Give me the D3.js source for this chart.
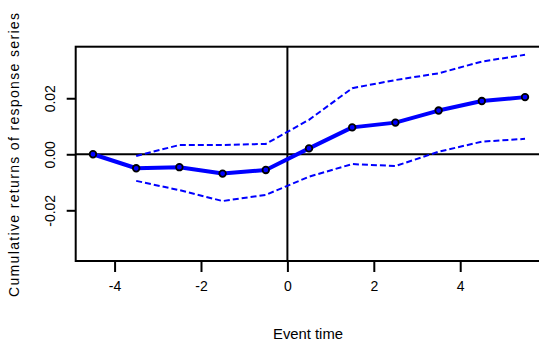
<!DOCTYPE html>
<html>
<head>
<meta charset="utf-8">
<script src="https://cdn.jsdelivr.net/npm/d3@7/dist/d3.min.js"></script>
<style>
  html, body { margin: 0; padding: 0; background: #fff; }
  svg { display: block; }
  text { font-family: "Liberation Sans", Arial, sans-serif; fill: #000; }
</style>
</head>
<body>
<svg id="chart" width="539" height="345"></svg>
<script>
// Event window
const eventTime = [-4.5, -3.5, -2.5, -1.5, -0.5, 0.5, 1.5, 2.5, 3.5, 4.5, 5.5];
// Cumulative returns of the response series
const cumReturn = [0.0000, -0.0050, -0.0046, -0.0069, -0.0056, 0.0021, 0.0096, 0.0113, 0.0156, 0.0190, 0.0204];
// Confidence band (starts one step into the window)
const bandTime = [-3.5, -2.5, -1.5, -0.5, 0.5, 1.5, 2.5, 3.5, 4.5, 5.5];
const upperBand = [-0.0006, 0.0033, 0.0033, 0.0037, 0.0123, 0.0236, 0.0265, 0.0289, 0.0331, 0.0355];
const lowerBand = [-0.0095, -0.0128, -0.0167, -0.0145, -0.0080, -0.0035, -0.0042, 0.0009, 0.0045, 0.0055];
// Axis ticks
const xTicks = [-4, -2, 0, 2, 4];
const yTicks = [-0.02, 0.00, 0.02];
const yTickLabels = ["-0.02", "0.00", "0.02"];

const svg = d3.select("#chart");
const x = d3.scaleLinear().domain([-4.9, 5.9]).range([75.7, 542.3]);
const y = d3.scaleLinear().domain([-0.0381, 0.0384]).range([261, 46.7]);

const blue = "#0000ff";

// Reference lines at zero
svg.append("line")
  .attr("x1", x(-4.9)).attr("x2", x(5.9))
  .attr("y1", y(0)).attr("y2", y(0))
  .attr("stroke", "#000").attr("stroke-width", 2);
svg.append("line")
  .attr("x1", x(0)).attr("x2", x(0))
  .attr("y1", y(0.0384)).attr("y2", y(-0.0381))
  .attr("stroke", "#000").attr("stroke-width", 2);

// Band lines
const bandLine = d3.line().x((d, i) => x(bandTime[i])).y(d => y(d));
[upperBand, lowerBand].forEach(b => {
  svg.append("path")
    .attr("d", bandLine(b))
    .attr("fill", "none")
    .attr("stroke", blue)
    .attr("stroke-width", 2)
    .attr("stroke-dasharray", "6,3");
});

// Main series
const mainLine = d3.line().x((d, i) => x(eventTime[i])).y(d => y(d));
svg.append("path")
  .attr("d", mainLine(cumReturn))
  .attr("fill", "none")
  .attr("stroke", blue)
  .attr("stroke-width", 4)
  .attr("stroke-linejoin", "round");

svg.selectAll("circle.pt")
  .data(cumReturn)
  .join("circle")
  .attr("class", "pt")
  .attr("cx", (d, i) => x(eventTime[i]))
  .attr("cy", d => y(d))
  .attr("r", 3.3)
  .attr("fill", blue)
  .attr("stroke", "#000")
  .attr("stroke-width", 1.8);

// Plot frame
svg.append("rect")
  .attr("x", x(-4.9)).attr("y", y(0.0384))
  .attr("width", x(5.9) - x(-4.9))
  .attr("height", y(-0.0381) - y(0.0384))
  .attr("fill", "none")
  .attr("stroke", "#000")
  .attr("stroke-width", 2);

// X axis
const xAxis = d3.axisBottom(x).tickValues(xTicks).tickSize(11).tickPadding(18)
  .tickFormat(d3.format("d"));
const gx = svg.append("g").attr("transform", `translate(0,${y(-0.0381)})`).call(xAxis);
gx.select(".domain").remove();
gx.selectAll(".tick line").attr("stroke", "#000").attr("stroke-width", 2);
gx.selectAll(".tick text")
  .attr("font-size", 14)
  .attr("font-family", "Liberation Sans, Arial, sans-serif")
  .attr("dy", "0.1em")
  .text(d => String(d));

// Y axis
const yAxis = d3.axisLeft(y).tickValues(yTicks).tickSize(9)
  .tickFormat((d, i) => yTickLabels[i]);
const gy = svg.append("g").attr("transform", `translate(${x(-4.9)},0)`).call(yAxis);
gy.select(".domain").remove();
gy.selectAll(".tick line").attr("stroke", "#000").attr("stroke-width", 2);
gy.selectAll(".tick text")
  .attr("font-size", 14)
  .attr("font-family", "Liberation Sans, Arial, sans-serif")
  .attr("x", 0).attr("dy", 0)
  .attr("text-anchor", "middle")
  .attr("transform", "translate(-20.5,0) rotate(-90)");

// Axis titles
svg.append("text")
  .attr("x", 308).attr("y", 338.5)
  .attr("text-anchor", "middle")
  .attr("font-size", 14)
  .attr("textLength", 70)
  .attr("lengthAdjust", "spacingAndGlyphs")
  .text("Event time");

svg.append("text")
  .attr("transform", "translate(18.5,155) rotate(-90)")
  .attr("text-anchor", "middle")
  .attr("font-size", 14)
  .attr("textLength", 284)
  .attr("lengthAdjust", "spacing")
  .text("Cumulative returns of response series");
</script>
</body>
</html>
